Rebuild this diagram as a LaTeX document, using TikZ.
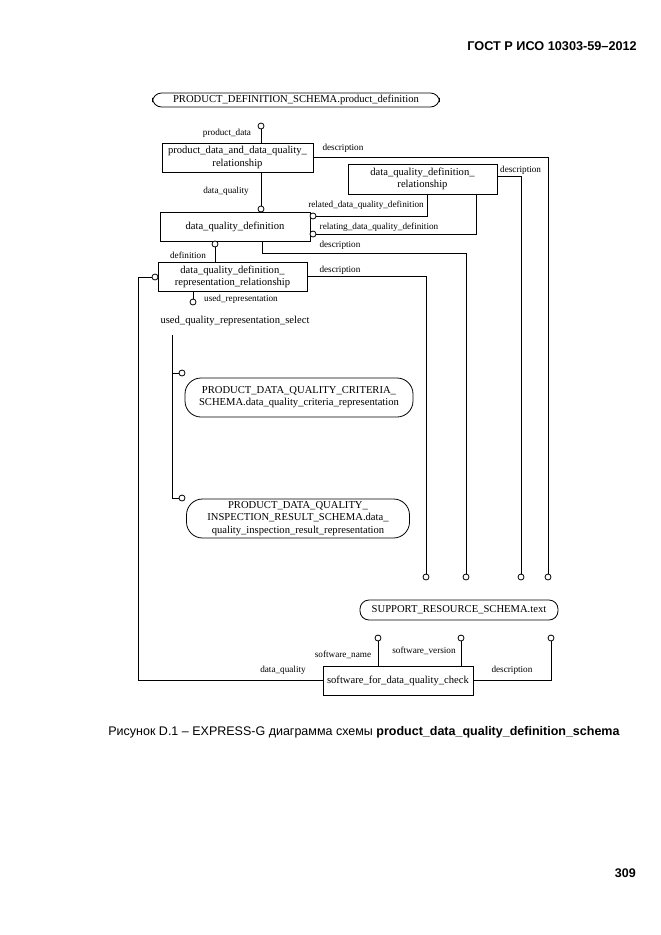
\documentclass[tikz,border=0pt]{standalone}
\usepackage{fontspec}
\setmainfont{Liberation Serif}
\newfontfamily\capsans{Liberation Sans}
\newcommand{\boxfnt}{\fontsize{10.6}{12.2}\selectfont}
\newcommand{\lblfnt}{\fontsize{9.2}{10}\selectfont}
\begin{document}
\begin{tikzpicture}[x=1pt,y=-1pt,
  ebox/.style={draw,rectangle,line width=0.8pt,inner sep=0pt,align=center,font=\boxfnt},
  rbox/.style={draw,rectangle,rounded corners=9pt,line width=0.8pt,inner sep=0pt,align=center,font=\boxfnt},
  oc/.style={draw,circle,line width=0.8pt,minimum size=6pt,inner sep=0pt,fill=white},
  lbl/.style={inner sep=0pt,font=\lblfnt},
  lnk/.style={line width=0.8pt}]
\useasboundingbox[fill=white] (0,0) rectangle (661,935);

% header, page number, caption
\node[anchor=east,inner sep=0pt,font=\capsans\bfseries\fontsize{12.7}{14}\selectfont] (hdr) at (637,46) {ГОСТ Р ИСО 10303-59–2012};
\node[anchor=east,inner sep=0pt,font=\capsans\bfseries\fontsize{12.5}{14}\selectfont] (pg) at (636,873) {309};
\node[inner sep=0pt,font=\capsans\fontsize{12.5}{14}\selectfont] (cap) at (364,732) {Рисунок D.1 – EXPRESS-G диаграмма схемы \textbf{product\_data\_quality\_definition\_schema}};

% boxes
\node[rbox,minimum width=287pt,minimum height=14pt] (top) at (296,100) {PRODUCT\_DEFINITION\_SCHEMA.product\_definition};
\node[ebox,minimum width=151pt,minimum height=29pt] (b1) at (237.5,157.5) {product\_data\_and\_data\_quality\_\\relationship};
\node[ebox,minimum width=149pt,minimum height=30pt] (b2) at (422.5,179) {data\_quality\_definition\_\\relationship};
\node[ebox,minimum width=150pt,minimum height=29pt] (b3) at (235,226.5) {data\_quality\_definition};
\node[ebox,minimum width=149pt,minimum height=29pt] (b4) at (232.5,276.5) {data\_quality\_definition\_\\representation\_relationship};
\node[inner sep=0pt,font=\boxfnt] (sel) at (235,321) {used\_quality\_representation\_select};
\node[rbox,rounded corners=16pt,minimum width=228pt,minimum height=39pt] (r1) at (299,397.5) {PRODUCT\_DATA\_QUALITY\_CRITERIA\_\\SCHEMA.data\_quality\_criteria\_representation};
\node[rbox,rounded corners=16pt,minimum width=223pt,minimum height=39pt] (r2) at (298,518.5) {PRODUCT\_DATA\_QUALITY\_\\INSPECTION\_RESULT\_SCHEMA.data\_\\quality\_inspection\_result\_representation};
\node[rbox,minimum width=198pt,minimum height=20pt] (r3) at (459,610) {SUPPORT\_RESOURCE\_SCHEMA.text};
\node[ebox,minimum width=150pt,minimum height=29pt] (b5) at (398,680.5) {software\_for\_data\_quality\_check};

% circles
\node[oc] (c1) at (261,126) {};
\node[oc] (c2) at (261,209) {};
\node[oc] (c3a) at (313,216) {};
\node[oc] (c3b) at (313,234) {};
\node[oc] (c4) at (215,244) {};
\node[oc] (c5) at (155,277) {};
\node[oc] (c6) at (193,302) {};
\node[oc] (c7a) at (182,373) {};
\node[oc] (c7b) at (182,498) {};
\node[oc] (cd4) at (426,577) {};
\node[oc] (cd3) at (466,577) {};
\node[oc] (cd2) at (521,577) {};
\node[oc] (cd1) at (548,577) {};
\node[oc] (ce1) at (378,638) {};
\node[oc] (ce2) at (461,638) {};
\node[oc] (ce3) at (551,638) {};
\coordinate (vtop) at (172,335);
\coordinate (vbot) at (172,498);
\coordinate (vmid) at (172,373);

% connectors
\draw[lnk] (c1.south) -- (c1 |- b1.north);
\draw[lnk] (b1.east) -| (cd1.north);
\draw[lnk] (c2 |- b1.south) -- (c2.north);
\draw[lnk] ([yshift=3pt]b2.east) -| (cd2.north);
\draw[lnk] (c3a.east) -| ([xshift=4.5pt]b2.south);
\draw[lnk] (c3b.east) -| ([xshift=53.5pt]b2.south);
\draw[lnk] ([xshift=27pt]b3.south) -- ++(0,12) -| (cd3.north);
\draw[lnk] (c4.south) -- (c4 |- b4.north);
\draw[lnk] (b4.east) -| (cd4.north);
\draw[lnk] (c5.west) -- ++(-13,0) |- (b5.west);
\draw[lnk] (c6.north) -- (c6 |- b4.south);
\draw[lnk] (vtop) -- (vbot) -- (c7b.west);
\draw[lnk] (vmid) -- (c7a.west);
\draw[lnk] (ce1.south) -- (ce1 |- b5.north);
\draw[lnk] (ce2.south) -- (ce2 |- b5.north);
\draw[lnk] (b5.east) -| (ce3.south);

% labels
\node[lbl] (l1) at (227,133) {product\_data};
\node[lbl] (l2) at (343,148) {description};
\node[lbl] (l3) at (226,191) {data\_quality};
\node[lbl,anchor=west] (l4) at (500,170) {description};
\node[lbl] (l5) at (366,205) {related\_data\_quality\_definition};
\node[lbl] (l6) at (379,227) {relating\_data\_quality\_definition};
\node[lbl] (l7) at (340,245) {description};
\node[lbl] (l8) at (188,255) {definition};
\node[lbl] (l9) at (340,270) {description};
\node[lbl] (l10) at (241,299) {used\_representation};
\node[lbl] (l11) at (343,655) {software\_name};
\node[lbl] (l12) at (424,651) {software\_version};
\node[lbl] (l13) at (512,670) {description};
\node[lbl] (l14) at (283,670) {data\_quality};
\end{tikzpicture}
\end{document}
